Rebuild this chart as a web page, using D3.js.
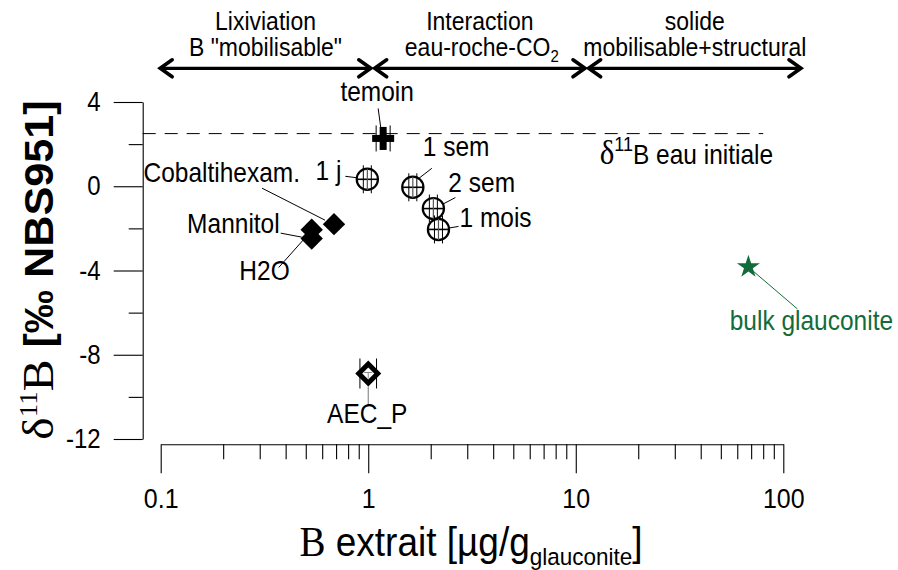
<!DOCTYPE html>
<html>
<head>
<meta charset="utf-8">
<script src="https://cdn.jsdelivr.net/npm/d3@7"></script>
<style>
  html, body { margin: 0; padding: 0; background: #fff; }
  svg { display: block; font-family: "Liberation Sans", Arial, sans-serif; }
</style>
</head>
<body>
<svg id="chart" width="898" height="570"></svg>
<script>
// ---- data ----
const sampleNames   = ["temoin", "1 j", "1 sem", "2 sem", "1 mois", "Cobaltihexam.", "Mannitol", "H2O", "AEC_P", "bulk glauconite"];
const boronExtract  = [1.18, 0.99, 1.64, 2.06, 2.18, 0.684, 0.534, 0.534, 1.0, 67.9];   // µg/g glauconite
const delta11B      = [2.27, 0.33, -0.05, -1.06, -2.05, -1.80, -2.06, -2.48, -8.89, -3.83]; // ‰ NBS951
const sampleGroup   = ["control", "co2", "co2", "co2", "co2", "leach", "leach", "leach", "exchange", "bulk"];

const initialWaterDelta = 2.5;
const xTickValues = [0.1, 1, 10, 100];
const xTickLabels = ["0.1", "1", "10", "100"];
const yTickValues = [4, 0, -4, -8, -12];
const yTickLabels = ["4", "0", "-4", "-8", "-12"];
const yMinorTicks = [2, -2, -6, -10];

const zoneTitles = [["Lixiviation", "B \"mobilisable\""], ["Interaction", "eau-roche-CO"], ["solide", "mobilisable+structural"]];
const zoneBounds = [[0.1, 1.04], [1.08, 11.2], [11.6, 123]];

// ---- layout (label offsets in px relative to each point) ----
const labelLayout = {
  "temoin":          { dx: -6,  dy: -37, anchor: "middle", lead: [[-5, -30], [-2, -8]] },
  "1 j":             { dx: -26, dy: 1,   anchor: "end",    lead: [[-22, -3], [-10, -1.5]] },
  "1 sem":           { dx: 10,  dy: -31, anchor: "start",  lead: [[1, -5], [19, -19]] },
  "2 sem":           { dx: 15,  dy: -17, anchor: "start",  lead: [[3, -1], [22, -11]] },
  "1 mois":          { dx: 21,  dy: -2,  anchor: "start",  lead: [[2, 0], [20, -3]] },
  "Cobaltihexam.":   { dx: -34, dy: -42, anchor: "end",    lead: [[-72, -36], [-9, -4]] },
  "Mannitol":        { dx: -32, dy: 3,   anchor: "end",    lead: [[-31, 3.5], [-10, 7.5]] },
  "H2O":             { dx: -22, dy: 42,  anchor: "end",    lead: [[-33, 29], [-8, 1]] },
  "AEC_P":           { dx: -1,  dy: 50,  anchor: "middle", lead: [[0, 13], [0, 32]] },
  "bulk glauconite": { dx: 63,  dy: 63,  anchor: "middle", lead: [[1, 1], [49, 42]] }
};

const green = "#136b3a";
const TEXT_SY = 1.12;   // the lettering is drawn slightly tall
const svg = d3.select("#chart");

// stretch a text element vertically around its own baseline anchor
function tall(sel, sy = TEXT_SY) {
  sel.each(function () {
    const t = d3.select(this);
    const tx = +t.attr("x") || 0, ty = +t.attr("y") || 0;
    t.attr("x", 0).attr("y", 0).attr("transform", `translate(${tx},${ty}) scale(1,${sy})`);
  });
  return sel;
}

const x = d3.scaleLog().domain([0.1, 100]).range([160.7, 783.3]);
const y = d3.scaleLinear().domain([-12, 4]).range([439, 102]);

const yAxisX = 142.7;
const xAxisY = 444.3;

// ---- x axis (log, offset below plot) ----
const xMinor = [];
for (let dec = 0.1; dec < 100; dec *= 10) for (let k = 2; k <= 9; k++) xMinor.push(+(dec * k).toFixed(3));

svg.append("g").attr("transform", `translate(0,${xAxisY})`)
  .call(d3.axisBottom(x).tickValues(xMinor).tickSize(15).tickFormat(""))
  .call(g => g.select(".domain").remove());
svg.append("g").attr("transform", `translate(0,${xAxisY})`)
  .call(d3.axisBottom(x).tickValues(xTickValues).tickSize(29).tickSizeOuter(0)
    .tickFormat((d, i) => xTickLabels[i]).tickPadding(15))
  .call(g => tall(g.selectAll("text").attr("font-size", 25).attr("fill", "#000")
    .attr("font-family", "Liberation Sans, Arial, sans-serif")));

// ---- y axis (linear, offset left of plot) ----
svg.append("g").attr("transform", `translate(${yAxisX},0)`)
  .call(d3.axisLeft(y).tickValues(yMinorTicks).tickSize(14).tickFormat(""))
  .call(g => g.select(".domain").remove());
svg.append("g").attr("transform", `translate(${yAxisX},0)`)
  .call(d3.axisLeft(y).tickValues(yTickValues).tickSize(29).tickSizeOuter(0)
    .tickFormat((d, i) => yTickLabels[i]).tickPadding(13))
  .call(g => tall(g.selectAll("text").attr("font-size", 24).attr("fill", "#000")
    .attr("font-family", "Liberation Sans, Arial, sans-serif")));
svg.selectAll(".tick line, .domain").attr("stroke", "#000").attr("stroke-width", 1.1);

// ---- axis titles ----
const xt = svg.append("text").attr("x", 471).attr("y", 556).attr("text-anchor", "middle").attr("fill", "#000");
xt.append("tspan").attr("font-family", "Liberation Serif, Times New Roman, serif").attr("font-size", 39).text("B");
xt.append("tspan").attr("font-size", 37).text(" extrait [µg/g");
xt.append("tspan").attr("font-size", 22.5).attr("dy", 8).text("glauconite");
xt.append("tspan").attr("font-size", 37).attr("dy", -8).text("]");
tall(xt, 1.08);

const yt = svg.append("text").attr("transform", "translate(53,270) rotate(-90) scale(1.08,1)")
  .attr("text-anchor", "middle").attr("fill", "#000");
yt.append("tspan").attr("font-family", "Liberation Serif, Times New Roman, serif").attr("font-size", 44).text("δ");
yt.append("tspan").attr("font-family", "Liberation Serif, Times New Roman, serif").attr("font-size", 25).attr("dy", -16).text("11");
yt.append("tspan").attr("font-family", "Liberation Serif, Times New Roman, serif").attr("font-size", 44).attr("dy", 16).text("B");
yt.append("tspan").attr("font-weight", "bold").attr("font-size", 40).text(" [‰ NBS951]");

// ---- initial water reference line ----
svg.append("line")
  .attr("x1", yAxisX).attr("x2", x(80))
  .attr("y1", y(initialWaterDelta)).attr("y2", y(initialWaterDelta))
  .attr("stroke", "#000").attr("stroke-width", 1).attr("stroke-dasharray", "13,9");
const ref = svg.append("text").attr("x", x(80) + 10).attr("y", y(initialWaterDelta) + 30)
  .attr("text-anchor", "end").attr("font-size", 24.5).attr("fill", "#000");
ref.append("tspan").attr("font-family", "Liberation Serif, Times New Roman, serif").attr("font-size", 31).text("δ");
ref.append("tspan").attr("font-size", 18).attr("dy", -11).text("11");
ref.append("tspan").attr("dy", 11).text("B eau initiale");
tall(ref);

// ---- zone arrows ----
function arrowHead(g, px, py, dir) {
  g.append("path")
    .attr("d", `M${px - dir * 12},${py - 8.5} L${px},${py} L${px - dir * 12},${py + 8.5}`)
    .attr("fill", "none").attr("stroke", "#000").attr("stroke-width", 3.6)
    .attr("stroke-linecap", "round").attr("stroke-linejoin", "miter");
}
const arrowY = 68.3;
zoneBounds.forEach((b, i) => {
  const g = svg.append("g");
  const x0 = x(b[0]) - 1.5, x1 = x(b[1]);
  g.append("line").attr("x1", x0 + 2).attr("x2", x1 - 2).attr("y1", arrowY).attr("y2", arrowY)
    .attr("stroke", "#000").attr("stroke-width", 3.2);
  arrowHead(g, x0 + 1, arrowY, -1);
  arrowHead(g, x1 - 1, arrowY, 1);
  const cx = (x0 + x1) / 2;
  tall(g.append("text").attr("x", cx).attr("y", 30).attr("text-anchor", "middle")
    .attr("font-size", 23).attr("fill", "#000").text(zoneTitles[i][0]));
  const t2 = g.append("text").attr("x", cx + (i === 1 ? 2 : 0)).attr("y", 56).attr("text-anchor", "middle")
    .attr("font-size", 23).attr("fill", "#000").text(zoneTitles[i][1]);
  if (i === 1) t2.append("tspan").attr("font-size", 15).attr("dy", 5).text("2");
  tall(t2);
});

// ---- points ----
const points = sampleNames.map((name, i) => ({
  name, bx: boronExtract[i], d: delta11B[i], group: sampleGroup[i]
}));

// leader lines
points.forEach(p => {
  const L = labelLayout[p.name];
  const px = x(p.bx), py = y(p.d);
  const col = p.group === "bulk" ? green : (p.group === "exchange" ? "#777" : "#000");
  svg.append("line")
    .attr("x1", px + L.lead[0][0]).attr("y1", py + L.lead[0][1])
    .attr("x2", px + L.lead[1][0]).attr("y2", py + L.lead[1][1])
    .attr("stroke", col).attr("stroke-width", 1);
});

// markers
const marks = svg.append("g");
points.forEach(p => {
  const g = marks.append("g").attr("transform", `translate(${x(p.bx)},${y(p.d)})`);
  if (p.group === "co2") {
    g.append("circle").attr("r", 10.6).attr("fill", "#fff").attr("stroke", "#000").attr("stroke-width", 2.2);
    [-4, 4].forEach(o => g.append("line").attr("x1", o).attr("x2", o).attr("y1", -14).attr("y2", 14)
      .attr("stroke", "#000").attr("stroke-width", 1));
    g.append("line").attr("x1", -10.6).attr("x2", 10.6).attr("stroke", "#000").attr("stroke-width", 1.6);
    g.append("line").attr("y1", -10.6).attr("y2", 10.6).attr("stroke", "#555").attr("stroke-width", 1.2);
  } else if (p.group === "control") {
    [-7, 7].forEach(o => g.append("line").attr("x1", o).attr("x2", o).attr("y1", -13).attr("y2", 13)
      .attr("stroke", "#000").attr("stroke-width", 1));
    g.append("rect").attr("x", -11).attr("y", -3.5).attr("width", 22).attr("height", 7).attr("fill", "#000");
    g.append("rect").attr("x", -3.5).attr("y", -11.5).attr("width", 7).attr("height", 23).attr("fill", "#000");
  } else if (p.group === "leach") {
    g.append("path").attr("d", "M0,-11.2 L11.2,0 L0,11.2 L-11.2,0Z").attr("fill", "#000");
  } else if (p.group === "exchange") {
    [-8.3, 8.3].forEach(o => g.append("line").attr("x1", o).attr("x2", o).attr("y1", -15).attr("y2", 15)
      .attr("stroke", "#000").attr("stroke-width", 1));
    g.append("path").attr("d", "M0,-13 L13,0 L0,13 L-13,0Z").attr("fill", "#000");
    g.append("path").attr("d", "M0,-6 L6,0 L0,6 L-6,0Z").attr("fill", "#fff");
    g.append("line").attr("x1", -4).attr("x2", 4).attr("y1", -1).attr("y2", -1).attr("stroke", "#888").attr("stroke-width", 1);
    g.append("line").attr("x1", 0).attr("x2", 0).attr("y1", -1).attr("y2", 5).attr("stroke", "#888").attr("stroke-width", 1);
  } else if (p.group === "bulk") {
    g.append("path").attr("d", d3.symbol(d3.symbolStar, 165)()).attr("fill", green);
  }
});

// point labels
points.forEach(p => {
  const L = labelLayout[p.name];
  tall(svg.append("text")
    .attr("x", x(p.bx) + L.dx).attr("y", y(p.d) + L.dy)
    .attr("text-anchor", L.anchor)
    .attr("font-size", 24.5)
    .attr("fill", p.group === "bulk" ? green : "#000")
    .text(p.name));
});
</script>
</body>
</html>
